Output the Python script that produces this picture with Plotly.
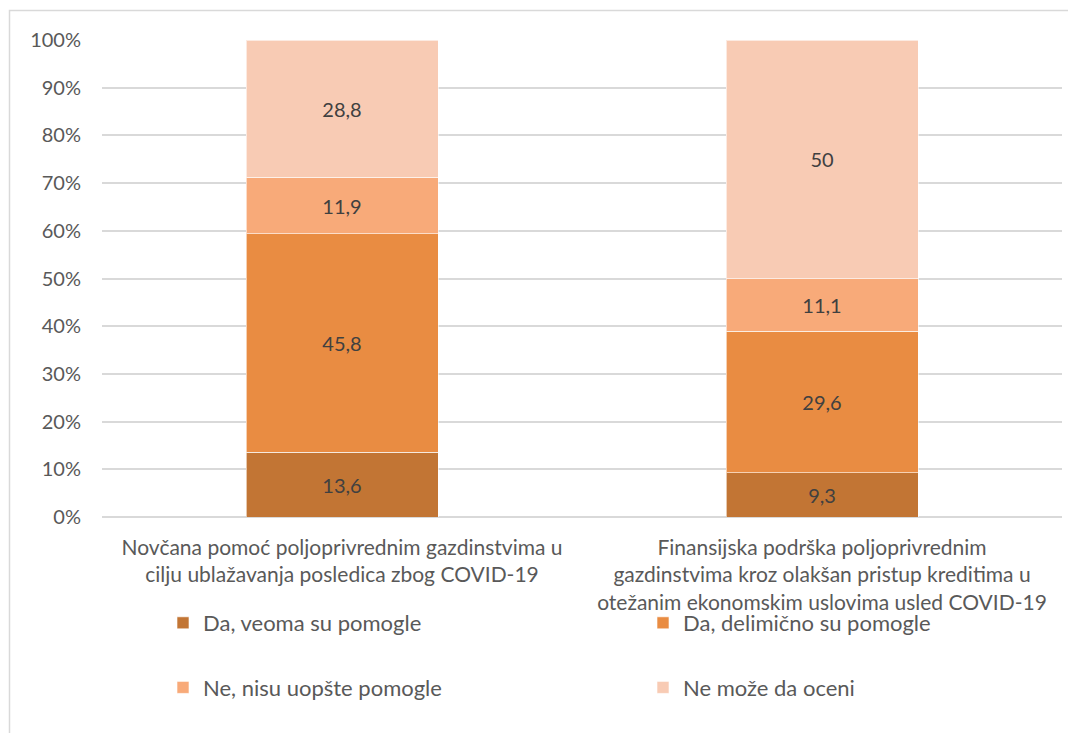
import plotly.graph_objects as go

categories = [
    "Novčana pomoć poljoprivrednim gazdinstvima u<br>cilju ublažavanja posledica zbog COVID-19",
    "Finansijska podrška poljoprivrednim<br>gazdinstvima kroz olakšan pristup kreditima u<br>otežanim ekonomskim uslovima usled COVID-19",
]
series_names = [
    "Da, veoma su pomogle",
    "Da, delimično su pomogle",
    "Ne, nisu uopšte pomogle",
    "Ne može da oceni",
]
da_veoma = [13.6, 9.3]
da_delimicno = [45.8, 29.6]
ne_nisu = [11.9, 11.1]
ne_moze = [28.8, 50]
series_values = [da_veoma, da_delimicno, ne_nisu, ne_moze]
colors = ["#C27534", "#E98C42", "#F8AA79", "#F8CBB4"]
y_ticks = list(range(0, 101, 10))
y_tick_labels = [f"{v}%" for v in y_ticks]

FONT = "Lato"
TXT = "#595959"

def fmt(v):
    return f"{v:g}".replace(".", ",")

fig = go.Figure()
legend_for = ["legend", "legend2", "legend", "legend2"]
for i, (name, vals, col) in enumerate(zip(series_names, series_values, colors)):
    fig.add_trace(go.Bar(
        x=categories, y=vals, name=name,
        marker=dict(color=col, line=dict(color="rgba(255,255,255,0.6)", width=1)),
        text=[fmt(v) for v in vals],
        textposition="inside", insidetextanchor="middle", textangle=0,
        textfont=dict(family=FONT, size=20, color="#404040"),
        width=0.4,
        legend=legend_for[i],
        legendgroup=f"g{i}",
        hoverinfo="skip",
    ))

# page body has an 8px margin: work in screen pixels and convert
OFF = 8
W, H = 1076, 733
SL, SR, ST, SB = 102, 1062, 40, 517  # plot area in screen px
L = SL - OFF
T = ST - OFF
R = W - (SR - OFF)
B = H - (SB - OFF)
PW = SR - SL
PH = SB - ST

def px_x(p):
    return (p - SL) / PW

def px_y(p):
    return (SB - p) / PH

legend_common = dict(
    orientation="v", traceorder="grouped", tracegroupgap=33,
    font=dict(family=FONT, size=22, color=TXT),
    bgcolor="rgba(0,0,0,0)", xanchor="left", yanchor="top",
    itemclick=False, itemdoubleclick=False,
)

fig.update_layout(
    width=W, height=H,
    margin=dict(l=L, r=R, t=T, b=B, autoexpand=False),
    paper_bgcolor="white", plot_bgcolor="white",
    barmode="stack", barnorm="percent",
    font=dict(family=FONT, size=20, color=TXT),
    separators=",.",
    showlegend=True,
    legend=dict(**legend_common, x=px_x(163), y=px_y(602)),
    legend2=dict(**legend_common, x=px_x(643), y=px_y(602)),
    uniformtext=dict(minsize=20, mode="show"),
    shapes=[dict(
        type="rect", xref="paper", yref="paper",
        x0=px_x(9.5), x1=px_x(1100), y0=px_y(780), y1=px_y(10.5),
        line=dict(color="#D9D9D9", width=1.5), fillcolor="rgba(0,0,0,0)",
        layer="below",
    )],
)
fig.update_yaxes(
    range=[0, 100], tickvals=y_ticks, ticktext=y_tick_labels,
    showgrid=True, gridcolor="#D9D9D9", gridwidth=1.5,
    zeroline=True, zerolinecolor="#D9D9D9", zerolinewidth=1.5,
    showline=False, ticks="", ticklabelstandoff=20,
    tickfont=dict(family=FONT, size=20, color=TXT),
)
fig.update_xaxes(
    showgrid=False, showline=False, ticks="", ticklabelstandoff=16,
    tickfont=dict(family=FONT, size=21, color=TXT),
)

fig.write_html("out.html")
